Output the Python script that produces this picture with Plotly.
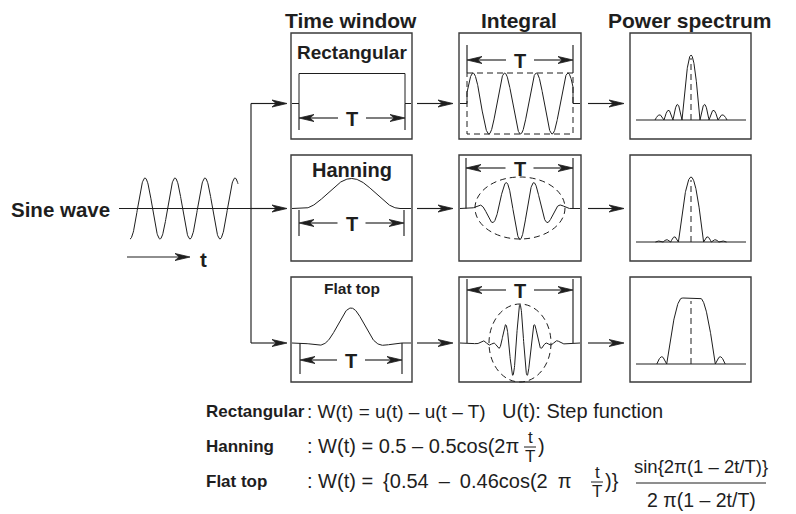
import numpy as np
import plotly.graph_objects as go

# ---------------- text / values ----------------
COLUMN_TITLES = ["Time window", "Integral", "Power spectrum"]
WINDOW_NAMES = ["Rectangular", "Hanning", "Flat top"]
WINDOW_NAME_SIZES = [19, 20, 15.5]
INPUT_LABEL = "Sine wave"
TIME_LABEL = "t"
PERIOD_LABEL = "T"

INPUT_CYCLES = 3.6            # cycles of the input sine drawn
INTEGRAL_CYCLES = [3.35, 3.7, 7.1]   # sine cycles over T in the integral column
INTEGRAL_PHASE = [0.057, 0.5, 0.5]   # position (fraction of T) of a crest
INTEGRAL_SIGN = [1, -1, 1]

# power spectra (units: frequency bins, heights relative to main lobe)
SPEC_MAIN_HALF = [1.0, 1.4, 2.7]
SPEC_FLAT_HALF = [0.0, 0.0, 1.0]
SPEC_SIDE_HEIGHTS = [[0.24, 0.15, 0.08], [0.08, 0.035, 0.015], [0.11]]
SPEC_SIDE_WIDTH = [1.0, 0.85, 1.1]

EN = "\u2002"
FORMULA_NAMES = ["Rectangular", "Hanning", "Flat top"]
FORMULA_BODY = [": W(t) = u(t) \u2013 u(t \u2013 T)",
                ": W(t) = 0.5 \u2013 0.5cos(2\u03c0",
                ": W(t) =" + EN + "{0.54" + EN + "\u2013" + EN + "0.46cos(2" + EN + "\u03c0"]
FORMULA_NOTE = "U(t): Step function"
FORMULA_TAIL = ["", ")", ")}"]
SINC_NUM = "sin{2\u03c0(1 \u2013 2t/T)}"
SINC_DEN = "2 \u03c0(1 \u2013 2t/T)"

# ---------------- window functions (from the formulas) ----------------
def w_rect(u):
    return np.ones_like(u)

def w_hann(u):
    return 0.5 - 0.5 * np.cos(2 * np.pi * u)

def w_flat(u):
    return (0.54 - 0.46 * np.cos(2 * np.pi * u)) * np.sinc(2 * (1 - 2 * u))

WINDOW_FUNCS = [w_rect, w_hann, w_flat]

# ---------------- geometry ----------------
W, H = 796, 514
FONT = "Liberation Sans, Arial, Helvetica, sans-serif"
INK = "#1e1e1e"
BOX = "#3a3a3a"

COL_L = [291, 459, 630]
COL_R = [412, 581, 751]
ROW_T = [33, 155, 277]
ROW_B = [139, 261, 382]
BASE = [103.5, 208.5, 343]          # signal baselines
SPEC_BASE = [120, 242, 364]
SPEC_H = [65, 65, 66]

TW_SPAN = [(299, 405), (303, 400), (300, 402)]
TW_HEIGHT = [30, 30, 35]
TW_TICK = [(299, 405, 103.5, 130, 118), (299, 404, 210, 236, 223), (300, 402, 343, 374, 360)]
TW_LABEL_Y = [52, 170, 288]

IN_SPAN = (467, 573)
IN_AMP = [30.5, 31, 38.5]
IN_TICK = [(467, 573, 45, 73, 60), (466, 573, 158, 208.5, 168), (467, 573, 279, 343, 290)]

fig = go.Figure()


def line(xs, ys, width=1.15, color=INK, dash=None):
    fig.add_trace(go.Scatter(x=list(xs), y=list(ys), mode="lines",
                             line=dict(color=color, width=width, dash=dash),
                             hoverinfo="skip", showlegend=False))


def head(xt, y, d, L=15, Wd=7):
    xs = [xt, xt - d * L, xt - d * L * 0.72, xt - d * L, xt]
    ys = [y, y - Wd / 2, y, y + Wd / 2, y]
    fig.add_trace(go.Scatter(x=xs, y=ys, mode="lines", fill="toself",
                             fillcolor=INK, line=dict(color=INK, width=0.8),
                             hoverinfo="skip", showlegend=False))


def arrow(x0, x1, y):
    d = 1 if x1 > x0 else -1
    line([x0, x1 - d * 8], [y, y])
    head(x1, y, d)


def text(x, y, s, size, bold=False, xanchor="center", yanchor="middle", family=FONT):
    fig.add_annotation(x=x, y=y, xref="x", yref="y", showarrow=False,
                       text=("<b>%s</b>" % s) if bold else s,
                       font=dict(family=family, size=size, color=INK),
                       xanchor=xanchor, yanchor=yanchor)


def tmark(xl, xr, ytop, ybot, ya, gap=14, size=20):
    line([xl, xl], [ytop, ybot])
    line([xr, xr], [ytop, ybot])
    cx = (xl + xr) / 2
    arrow(cx - gap, xl, ya)
    arrow(cx + gap, xr, ya)
    text(cx, ya + 1, PERIOD_LABEL, size, bold=True)


# boxes
for c in range(3):
    for r in range(3):
        fig.add_shape(type="rect", x0=COL_L[c], x1=COL_R[c], y0=ROW_T[r], y1=ROW_B[r],
                      line=dict(color=BOX, width=1.4), fillcolor="rgba(0,0,0,0)")

# column titles
for c, t in enumerate(COLUMN_TITLES):
    text((COL_L[c] + COL_R[c]) / 2 - 1, 20, t, 21, bold=True)

# input sine wave
text(112, 209, INPUT_LABEL, 20.5, bold=True, xanchor="right")
u = np.linspace(0, 1, 300)
xs = 130 + 108 * u
line(xs, 208.5 - 30.5 * (-np.cos(2 * np.pi * INPUT_CYCLES * u)), width=1.0)
line([119, 251], [208.5, 208.5])
arrow(127, 190, 257)
text(198, 259, TIME_LABEL, 20.5, bold=True, xanchor="left")

# splitter
line([251, 251], [BASE[0], BASE[2]])
for r in range(3):
    arrow(251, 287, BASE[r])
    arrow(417, 453, BASE[r])
    arrow(588, 624, BASE[r])

# time window column
for r in range(3):
    xl, xr = TW_SPAN[r]
    u = np.linspace(0, 1, 300)
    wv = WINDOW_FUNCS[r](u)
    xs = [COL_L[0] + 1, xl] + list(xl + (xr - xl) * u) + [xr, COL_R[0] - 1]
    ys = [BASE[r], BASE[r]] + list(BASE[r] - TW_HEIGHT[r] * wv) + [BASE[r], BASE[r]]
    line(xs, ys, width=1.0)
    a, b, y0, y1, ya = TW_TICK[r]
    tmark(a, b, y0, y1, ya)
    text((COL_L[0] + COL_R[0]) / 2, TW_LABEL_Y[r], WINDOW_NAMES[r], WINDOW_NAME_SIZES[r], bold=True)

# integral column
for r in range(3):
    xl, xr = IN_SPAN
    u = np.linspace(0, 1, 600)
    wv = WINDOW_FUNCS[r](u)
    s = INTEGRAL_SIGN[r] * np.cos(2 * np.pi * INTEGRAL_CYCLES[r] * (u - INTEGRAL_PHASE[r]))
    xs = [COL_L[1] + 1, xl] + list(xl + (xr - xl) * u) + [xr, COL_R[1] - 1]
    ys = [BASE[r], BASE[r]] + list(BASE[r] - IN_AMP[r] * wv * s) + [BASE[r], BASE[r]]
    line(xs, ys, width=1.0)
    a, b, y0, y1, ya = IN_TICK[r]
    tmark(a, b, y0, y1, ya)

# dashed envelopes
line([467, 573, 573, 467, 467], [73, 73, 134, 134, 73], width=1.0, dash="6px,4px")
fig.add_shape(type="circle", x0=475, x1=565, y0=177, y1=239,
              line=dict(color=INK, width=1.0, dash="6px,4px"))
fig.add_shape(type="circle", x0=489, x1=551, y0=304, y1=382,
              line=dict(color=INK, width=1.0, dash="6px,4px"))

# power spectrum column
PX_BIN = 9
CX = 691
for r in range(3):
    half, flat = SPEC_MAIN_HALF[r], SPEC_FLAT_HALF[r]
    x = np.linspace(-half, half, 200)
    ax_ = np.abs(x)
    v = np.where(ax_ <= flat, 1.0, np.cos(np.pi / 2 * (ax_ - flat) / (half - flat)))
    xs, ys = list(CX + PX_BIN * x), list(SPEC_BASE[r] - SPEC_H[r] * v)
    line(xs, ys, width=1.0)
    for side in (-1, 1):
        start = half
        for h in SPEC_SIDE_HEIGHTS[r]:
            w = SPEC_SIDE_WIDTH[r]
            xx = np.linspace(start, start + w, 40)
            yy = h * np.sin(np.pi * (xx - start) / w)
            line(CX + side * PX_BIN * xx, SPEC_BASE[r] - SPEC_H[r] * yy, width=1.0)
            start += w
    line([636, 746], [SPEC_BASE[r], SPEC_BASE[r]], width=1.2)
    line([CX, CX], [SPEC_BASE[r], SPEC_BASE[r] - SPEC_H[r] + 3], width=1.0, dash="6px,4px")

# formulas
FY = [411, 446, 481]
FSIZE = 20
BODY_X = 305
for i in range(3):
    text(204, FY[i], FORMULA_NAMES[i], 17, bold=True, xanchor="left")
text(BODY_X, FY[0], FORMULA_BODY[0], 19, xanchor="left")
text(BODY_X, FY[1], FORMULA_BODY[1], FSIZE, xanchor="left")
text(BODY_X, FY[2], FORMULA_BODY[2], FSIZE, xanchor="left")
text(500, FY[0], FORMULA_NOTE, FSIZE, xanchor="left")
# t/T fractions
for (fx, fy, tail) in [(530, FY[1], FORMULA_TAIL[1]), (597, FY[2], FORMULA_TAIL[2])]:
    text(fx, fy - 9, "t", 17)
    text(fx, fy + 10, "T", 17)
    fig.add_shape(type="line", x0=fx - 6, x1=fx + 6, y0=fy + 1, y1=fy + 1,
                  line=dict(color=INK, width=1))
    text(fx + 6, fy, tail, FSIZE, xanchor="left")
text(701, 466, SINC_NUM, 18.5)
text(701, 500, SINC_DEN, 19.5)
fig.add_shape(type="line", x0=636, x1=766, y0=483, y1=483, line=dict(color=INK, width=1))

fig.update_layout(
    width=W, height=H, margin=dict(l=0, r=0, t=0, b=0),
    paper_bgcolor="white", plot_bgcolor="white",
    xaxis=dict(range=[0, W], visible=False, fixedrange=True),
    yaxis=dict(range=[H, 0], visible=False, fixedrange=True),
)

fig.write_html("out.html", config={"displayModeBar": False},
               post_script="document.body.style.margin='0';")
